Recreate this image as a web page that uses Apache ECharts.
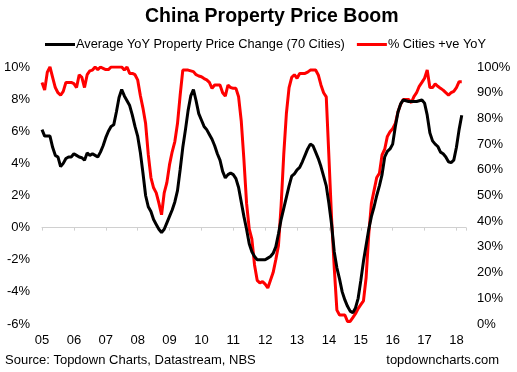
<!DOCTYPE html>
<html>
<head>
<meta charset="utf-8">
<script src="https://cdn.jsdelivr.net/npm/echarts@6/dist/echarts.min.js"></script>
<style>
  html, body { margin: 0; padding: 0; background: #fff; }
  #chart { width: 517px; height: 372px; }
</style>
</head>
<body>
<div id="chart"></div>
<script>
// Month index 0 = Jan 2005
const yearLabels = ['05','06','07','08','09','10','11','12','13','14','15','16','17','18'];
const leftTicks = [-6, -4, -2, 0, 2, 4, 6, 8, 10];
const rightTicks = [0, 10, 20, 30, 40, 50, 60, 70, 80, 90, 100];

// Average YoY Property Price Change (70 Cities), % — monthly
const avgYoY = [
  6.1, 5.7, 5.7, 5.7, 5.0, 4.5, 4.4, 3.8, 4.0, 4.3, 4.4, 4.4,
  4.6, 4.5, 4.4, 4.35, 4.2, 4.65, 4.5, 4.6, 4.5, 4.4, 4.7, 5.1,
  5.6, 6.0, 6.3, 6.4, 7.2, 8.1, 8.6, 8.2, 7.9, 7.6, 7.0, 6.3,
  5.7, 4.7, 3.4, 2.0, 1.3, 1.0, 0.5, 0.2, -0.1, -0.3, -0.1, 0.3,
  0.7, 1.1, 1.6, 2.3, 3.6, 5.0, 6.1, 7.3, 8.2, 8.6, 7.9, 7.1,
  6.7, 6.3, 6.1, 5.8, 5.5, 5.1, 4.6, 4.2, 3.5, 3.1, 3.3, 3.4,
  3.3, 3.05, 2.5, 1.6, 0.7, -0.1, -1.0, -1.5, -1.8, -2.0, -2.0, -2.0,
  -2.0, -1.9, -1.8, -1.6, -1.2, -0.4, 0.5, 1.2, 1.9, 2.6, 3.2, 3.35,
  3.6, 3.75, 4.1, 4.5, 4.9, 5.2, 5.1, 4.7, 4.3, 3.8, 3.2, 2.6,
  1.5, 0.2, -1.5, -2.5, -3.2, -4.0, -4.5, -4.9, -5.2, -5.3, -5.0, -4.4,
  -3.3, -2.1, -1.1, -0.1, 0.7, 1.3, 2.0, 2.6, 3.3, 4.4, 4.75, 4.9,
  5.2, 6.3, 7.2, 7.7, 7.95, 7.9, 7.85, 7.85, 7.85, 7.85, 7.9, 7.95,
  7.75, 7.0, 5.9, 5.4, 5.2, 5.05, 4.7, 4.6, 4.4, 4.1, 4.05, 4.2,
  5.0, 6.1, 7.0
];

// % Cities +ve YoY — monthly
const pctPositive = [
  94, 91, 98, 100, 96, 92, 90, 89, 90.5, 94, 94, 94,
  93.5, 92, 97, 96, 92, 97, 98.5, 98.8, 100, 99, 100, 99.5,
  99, 99, 100, 100, 100, 100, 100, 98.8, 100, 97.5, 97.5, 97,
  95, 89, 84, 78, 66, 57, 53, 51, 47, 42.5, 51, 55,
  62, 67, 71, 78, 89, 98.8, 98.8, 98.8, 98.5, 98.2, 97, 96.5,
  96.2, 95.5, 95, 94, 91.7, 93, 93, 93, 90, 88.7, 93, 92,
  91.7, 91.7, 88.4, 79, 64, 47, 37, 33, 23, 17, 16, 16.5,
  15.5, 14, 17, 20, 25, 30.5, 46, 66, 82, 92, 96, 97,
  95.6, 97.5, 97.5, 97.5, 98, 98.8, 98.8, 98.8, 96.9, 93, 90, 88.4,
  65, 41, 22, 5.4, 3.5, 3.5, 3.5, 1, 1, 2.5, 4, 6,
  7.5, 9, 18, 35, 47, 52, 57, 58.6, 65.8, 68, 73, 74.8,
  76, 78, 82.6, 85.5, 87.4, 87.4, 87.4, 86.1, 88.5, 90, 92.5, 94,
  95.6, 98.8, 92, 92, 93.4, 92.5, 91.7, 91, 90, 89.1, 90, 90.5,
  92, 94.3, 94.3
];

const chart = echarts.init(document.getElementById('chart'), null, { renderer: 'canvas' });
const FONT = 'Liberation Sans, Arial, sans-serif';
const xMax = 159.6;

chart.setOption({
  animation: false,
  backgroundColor: '#ffffff',
  title: {
    text: 'China Property Price Boom',
    left: 140,
    top: 2,
    textStyle: { fontFamily: FONT, fontSize: 19.5, fontWeight: 'bold', color: '#000' }
  },
  legend: {
    top: 33,
    left: 40,
    itemWidth: 30,
    itemHeight: 3,
    itemGap: 12,
    icon: 'rect',
    textStyle: { fontFamily: FONT, fontSize: 12.8, color: '#000', padding: [0, 0, 0, -4] },
    data: ['Average YoY Property Price Change (70 Cities)', '% Cities +ve YoY']
  },
  grid: { left: 42, right: 51, top: 67, bottom: 48, containLabel: false },
  xAxis: [
    {
      type: 'value', min: 0, max: xMax, interval: 12,
      axisLine: { show: true, onZero: true, onZeroAxisIndex: 0, lineStyle: { color: '#d0d0d0', width: 1 } },
      axisTick: { show: true, length: 3, lineStyle: { color: '#d0d0d0' } },
      axisLabel: { show: false },
      splitLine: { show: false }
    },
    {
      type: 'value', min: 0, max: xMax, interval: 12, position: 'bottom',
      axisLine: { show: false, onZero: false },
      axisTick: { show: false },
      splitLine: { show: false },
      axisLabel: {
        show: true, margin: 10, showMaxLabel: false,
        fontFamily: FONT, fontSize: 13, color: '#000',
        formatter: v => { const i = Math.round(v / 12); return (v % 12 === 0 && yearLabels[i]) ? yearLabels[i] : ''; }
      }
    }
  ],
  yAxis: [
    {
      type: 'value', min: leftTicks[0], max: leftTicks[leftTicks.length - 1], interval: 2, position: 'left',
      axisLine: { show: false }, axisTick: { show: false }, splitLine: { show: false },
      axisLabel: { margin: 12, fontFamily: FONT, fontSize: 13, color: '#000', formatter: '{value}%' }
    },
    {
      type: 'value', min: rightTicks[0], max: rightTicks[rightTicks.length - 1], interval: 10, position: 'right',
      axisLine: { show: false }, axisTick: { show: false }, splitLine: { show: false },
      axisLabel: { margin: 11, fontFamily: FONT, fontSize: 13, color: '#000', formatter: '{value}%' }
    }
  ],
  series: [
    {
      name: '% Cities +ve YoY',
      type: 'line', xAxisIndex: 0, yAxisIndex: 1,
      data: pctPositive.map((v, i) => [i, v]),
      showSymbol: false, smooth: false,
      lineStyle: { color: '#ff0000', width: 3 },
      itemStyle: { color: '#ff0000' },
      z: 2
    },
    {
      name: 'Average YoY Property Price Change (70 Cities)',
      type: 'line', xAxisIndex: 0, yAxisIndex: 0,
      data: avgYoY.map((v, i) => [i, v]),
      showSymbol: false, smooth: false,
      lineStyle: { color: '#000000', width: 3 },
      itemStyle: { color: '#000000' },
      z: 3
    }
  ],
  graphic: [
    {
      type: 'text', left: 5, top: 354,
      style: { text: 'Source: Topdown Charts, Datastream, NBS', fontFamily: FONT, fontSize: 13, fill: '#000' }
    },
    {
      type: 'text', right: 18, top: 354,
      style: { text: 'topdowncharts.com', fontFamily: FONT, fontSize: 13, fill: '#000' }
    }
  ]
});
</script>
</body>
</html>
